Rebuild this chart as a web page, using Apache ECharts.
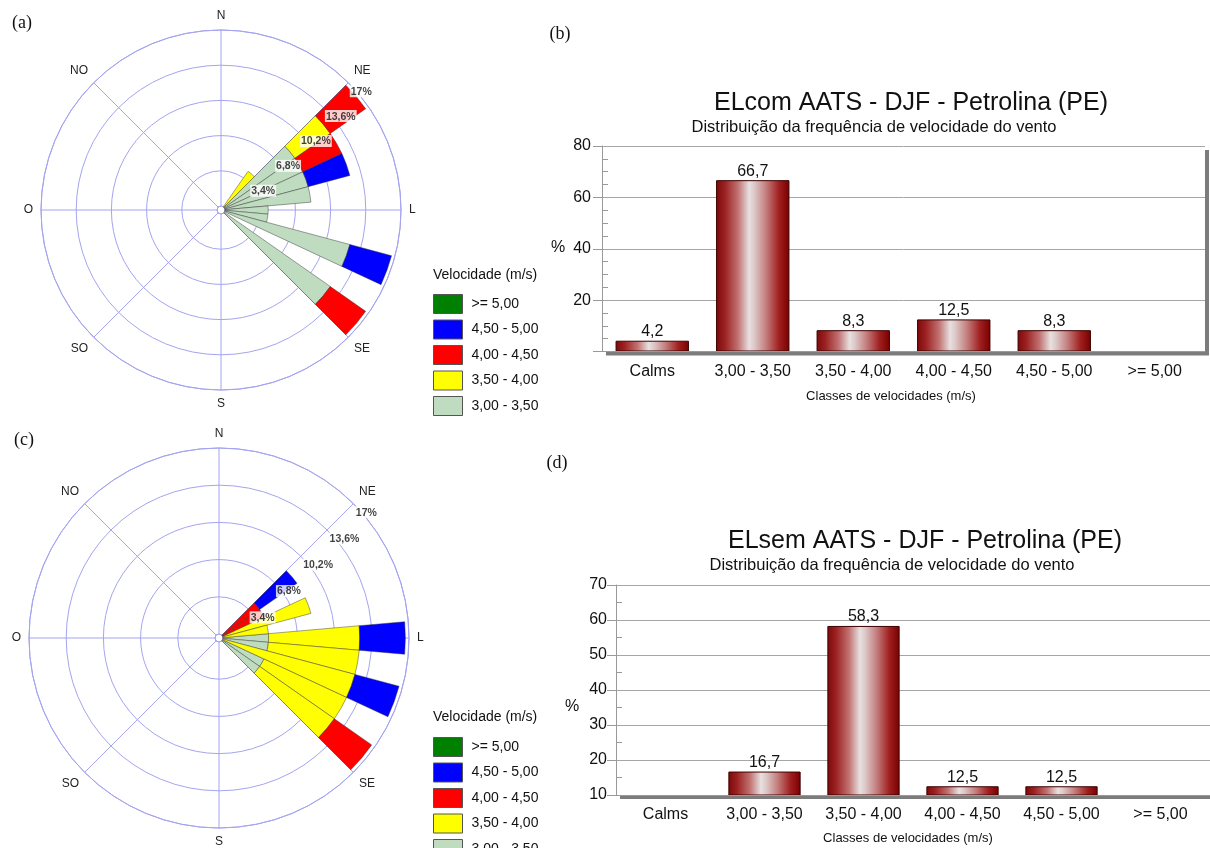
<!DOCTYPE html>
<html>
<head>
<meta charset="utf-8">
<script src="https://cdn.jsdelivr.net/npm/echarts@6/dist/echarts.min.js"></script>
<style>
  html, body { margin: 0; padding: 0; background: #fff; }
  #chart { width: 1210px; height: 848px; }
</style>
</head>
<body>
<div id="chart"></div>
<script>
// ---- Wind rose data: frequency (%) per 10-degree sector and speed class ----
const roseDirs = [40, 50, 60, 70, 80, 90, 100, 110, 120, 130];

// (a) ELcom AATS
const roseA_300_350 = [0, 8.33, 8.33, 8.33, 8.33, 4.17, 4.17, 12.5, 0, 12.5];
const roseA_350_400 = [4.17, 4.17, 0, 0, 0, 0, 0, 0, 0, 0];
const roseA_400_450 = [0, 4.17, 4.17, 0, 0, 0, 0, 0, 0, 4.17];
const roseA_450_500 = [0, 0, 0, 4.17, 0, 0, 0, 4.17, 0, 0];
const roseA_500     = [0, 0, 0, 0, 0, 0, 0, 0, 0, 0];

// (c) ELsem AATS
const roseC_300_350 = [0, 0, 0, 0, 0, 4.17, 4.17, 0, 4.17, 4.17];
const roseC_350_400 = [0, 0, 0, 8.33, 4.17, 8.33, 8.33, 12.5, 8.33, 8.33];
const roseC_400_450 = [0, 4.17, 4.17, 0, 0, 0, 0, 0, 0, 4.17];
const roseC_450_500 = [0, 4.17, 0, 0, 0, 4.17, 0, 4.17, 0, 0];
const roseC_500     = [0, 0, 0, 0, 0, 0, 0, 0, 0, 0];

const speedClasses = ['3,00 - 3,50', '3,50 - 4,00', '4,00 - 4,50', '4,50 - 5,00', '>= 5,00'];
const classColors  = ['#c0dcc0', '#ffff00', '#ff0000', '#0000ff', '#008000'];
const legendOrder  = ['>= 5,00', '4,50 - 5,00', '4,00 - 4,50', '3,50 - 4,00', '3,00 - 3,50'];

const ringTicks  = [3.4, 6.8, 10.2, 13.6, 17];
const ringLabels = ['3,4%', '6,8%', '10,2%', '13,6%', '17%'];
const compassLabels = ['N', 'NE', 'L', 'SE', 'S', 'SO', 'O', 'NO'];

// ---- Bar charts: speed class frequency (%) ----
const barCategories = ['Calms', '3,00 - 3,50', '3,50 - 4,00', '4,00 - 4,50', '4,50 - 5,00', '>= 5,00'];
const barValuesB = [4.2, 66.7, 8.3, 12.5, 8.3, 0];
const barValuesD = [0, 16.7, 58.3, 12.5, 12.5, 0];

const FONT = '"Liberation Sans", Arial, sans-serif';
const GRID_BLUE = '#a4a4f0';

const sectorNames = [];
for (let a = 0; a < 360; a += 10) sectorNames.push(String(a));

function toSectors(vals) {
  const out = sectorNames.map(() => '-');
  roseDirs.forEach((d, i) => { if (vals[i] > 0) out[d / 10] = vals[i]; });
  return out;
}
function comma(v) { return String(v).replace('.', ','); }

function roseAxes(barPolar, gridPolar) {
  const angle = [
    { polarIndex: barPolar, type: 'category', data: sectorNames, startAngle: 95, clockwise: true,
      axisLine: { show: false }, axisTick: { show: false }, axisLabel: { show: false }, splitLine: { show: false } },
    { polarIndex: gridPolar, type: 'value', min: 0, max: 360, interval: 45, startAngle: 90, clockwise: true,
      axisLine: { lineStyle: { color: GRID_BLUE, width: 1 } },
      axisTick: { show: false },
      axisLabel: { margin: 8, color: '#222', fontSize: 12, fontFamily: FONT,
        formatter: v => (v >= 360 ? '' : compassLabels[Math.round(v / 45)]) },
      splitLine: { show: true, lineStyle: { color: GRID_BLUE, width: 1 } } }
  ];
  const radius = [
    { polarIndex: barPolar, type: 'value', min: 0, max: 17, show: false },
    { polarIndex: gridPolar, type: 'value', min: 0, max: 17, interval: 3.4,
      axisLine: { show: false }, axisTick: { show: false }, axisLabel: { show: false },
      splitLine: { show: true, lineStyle: { color: GRID_BLUE, width: 1 } } }
  ];
  return { angle, radius };
}

function roseSeries(stackId, barPolar, gridPolar, classArrays) {
  const list = classArrays.map((vals, k) => ({
    type: 'bar', name: speedClasses[k], coordinateSystem: 'polar', polarIndex: barPolar,
    stack: stackId, barCategoryGap: '0%', data: toSectors(vals),
    itemStyle: { color: classColors[k], borderColor: 'rgba(50,50,50,0.75)', borderWidth: 0.6 },
    silent: true
  }));
  list.push({
    type: 'scatter', coordinateSystem: 'polar', polarIndex: gridPolar, z: 10, silent: true,
    symbolSize: 1, itemStyle: { color: 'rgba(0,0,0,0)' },
    data: ringTicks.map(t => [t, 45]),
    label: { show: true, position: [2, 3], align: 'left', verticalAlign: 'top',
      formatter: p => ringLabels[p.dataIndex], fontSize: 10.5, fontWeight: 'bold',
      fontFamily: FONT, color: '#111', backgroundColor: '#fff', padding: [1, 1, 0, 1] }
  });
  return list;
}

const ra = roseAxes(0, 1);
const rc = roseAxes(2, 3);

const barGradient = {
  type: 'linear', x: 0, y: 0, x2: 1, y2: 0,
  colorStops: [
    { offset: 0, color: '#7d0808' },
    { offset: 0.12, color: '#9c2222' },
    { offset: 0.3, color: '#c27272' },
    { offset: 0.45, color: '#e8e0e0' },
    { offset: 0.52, color: '#ddc9c9' },
    { offset: 0.68, color: '#c47e7e' },
    { offset: 0.86, color: '#a01e1e' },
    { offset: 1, color: '#780000' }
  ]
};

function barSeries(name, gridIdx, values) {
  return {
    type: 'bar', name, xAxisIndex: gridIdx * 2, yAxisIndex: gridIdx * 2,
    data: values.map(v => (v > 0 ? v : '-')), barCategoryGap: '27%', silent: true,
    itemStyle: { color: barGradient, borderColor: '#3a0000', borderWidth: 1 },
    label: { show: true, position: 'top', distance: 1, fontSize: 16, color: '#111', fontFamily: FONT,
      formatter: p => comma(p.value) }
  };
}

function barXAxes(gridIdx) {
  return [
    { gridIndex: gridIdx, type: 'category', data: barCategories, z: 3,
      axisLine: { lineStyle: { color: '#999' } },
      axisTick: { alignWithLabel: true, length: 10, lineStyle: { color: '#999' } },
      axisLabel: { fontSize: 16, color: '#111', margin: 12, fontFamily: FONT, interval: 0 } },
    { gridIndex: gridIdx, type: 'category', data: barCategories, position: 'bottom', z: 3,
      axisLine: { show: false },
      axisTick: { alignWithLabel: true, inside: true, length: 12, lineStyle: { color: '#999' } },
      axisLabel: { show: false } }
  ];
}

function barYAxes(gridIdx, min, max, interval, minorSplit, margin) {
  return [
    { gridIndex: gridIdx, type: 'value', min, max, interval, position: 'left',
      axisLine: { show: true, lineStyle: { color: '#999' } },
      axisTick: { show: true, length: 9, lineStyle: { color: '#999' } },
      axisLabel: { fontSize: 16, color: '#111', margin, fontFamily: FONT,
        formatter: v => (v === 0 ? '' : String(v)) },
      splitLine: { show: true, lineStyle: { color: '#a6a6a6' } } },
    { gridIndex: gridIdx, type: 'value', min, max, interval, position: 'left',
      axisLine: { show: false },
      axisTick: { show: false, inside: true },
      minorTick: { show: true, splitNumber: minorSplit, length: 6, lineStyle: { color: '#999' } },
      axisLabel: { show: false }, splitLine: { show: false } }
  ];
}

function txt(x, y, text, font, align) {
  return { type: 'text', x, y, silent: true,
    style: { text, font, fill: '#111', textAlign: align || 'center', textVerticalAlign: 'middle',
      align: align || 'center', verticalAlign: 'middle' } };
}

const legendCommon = {
  orient: 'vertical', left: 428, itemWidth: 29, itemHeight: 19, itemGap: 5.5, icon: 'rect',
  height: 160, selectedMode: false, data: legendOrder,
  itemStyle: { borderColor: '#555', borderWidth: 1 },
  textStyle: { fontSize: 14, color: '#111', fontFamily: FONT, padding: [0, 0, 0, 4] }
};

const option = {
  animation: false,
  backgroundColor: '#fff',
  textStyle: { fontFamily: FONT },
  polar: [
    { center: [221, 210], radius: [4, 180] },
    { center: [221, 210], radius: [4, 180] },
    { center: [219, 638], radius: [4, 190] },
    { center: [219, 638], radius: [4, 190] }
  ],
  angleAxis: [...ra.angle, ...rc.angle],
  radiusAxis: [...ra.radius, ...rc.radius],
  legend: [
    Object.assign({}, legendCommon, { top: 289 }),
    Object.assign({}, legendCommon, { top: 732 })
  ],
  grid: [
    { left: 602, top: 146, width: 603, height: 205.5, show: true, backgroundColor: '#fff', borderWidth: 0,
      shadowColor: '#7c7c7c', shadowOffsetX: 4, shadowOffsetY: 4, shadowBlur: 0 },
    { left: 616, top: 585, width: 598, height: 210, show: true, backgroundColor: '#fff', borderWidth: 0,
      shadowColor: '#7c7c7c', shadowOffsetX: 4, shadowOffsetY: 4, shadowBlur: 0 }
  ],
  xAxis: [...barXAxes(0), ...barXAxes(1)],
  yAxis: [...barYAxes(0, 0, 80, 20, 4, 11), ...barYAxes(1, 10, 70, 10, 2, 9)],
  series: [
    ...roseSeries('roseA', 0, 1, [roseA_300_350, roseA_350_400, roseA_400_450, roseA_450_500, roseA_500]),
    ...roseSeries('roseC', 2, 3, [roseC_300_350, roseC_350_400, roseC_400_450, roseC_450_500, roseC_500]),
    barSeries('ELcom AATS', 0, barValuesB),
    barSeries('ELsem AATS', 1, barValuesD)
  ],
  graphic: [
    txt(22, 23, '(a)', '18px "Liberation Serif", serif'),
    txt(560, 34, '(b)', '18px "Liberation Serif", serif'),
    txt(24, 440, '(c)', '18px "Liberation Serif", serif'),
    txt(557, 463, '(d)', '18px "Liberation Serif", serif'),
    txt(433, 275, 'Velocidade (m/s)', '14px ' + FONT, 'left'),
    txt(433, 717, 'Velocidade (m/s)', '14px ' + FONT, 'left'),
    txt(911, 103, 'ELcom AATS - DJF - Petrolina (PE)', '25px ' + FONT),
    txt(874, 127, 'Distribuição da frequência de velocidade do vento', '16.5px ' + FONT),
    txt(925, 541, 'ELsem AATS - DJF - Petrolina (PE)', '25px ' + FONT),
    txt(892, 565, 'Distribuição da frequência de velocidade do vento', '16.5px ' + FONT),
    txt(558, 248, '%', '16px ' + FONT),
    txt(572, 707, '%', '16px ' + FONT),
    txt(891, 396, 'Classes de velocidades (m/s)', '13px ' + FONT),
    txt(908, 838, 'Classes de velocidades (m/s)', '13px ' + FONT)
  ]
};

const chart = echarts.init(document.getElementById('chart'), null, { renderer: 'canvas' });
chart.setOption(option);
</script>
</body>
</html>
